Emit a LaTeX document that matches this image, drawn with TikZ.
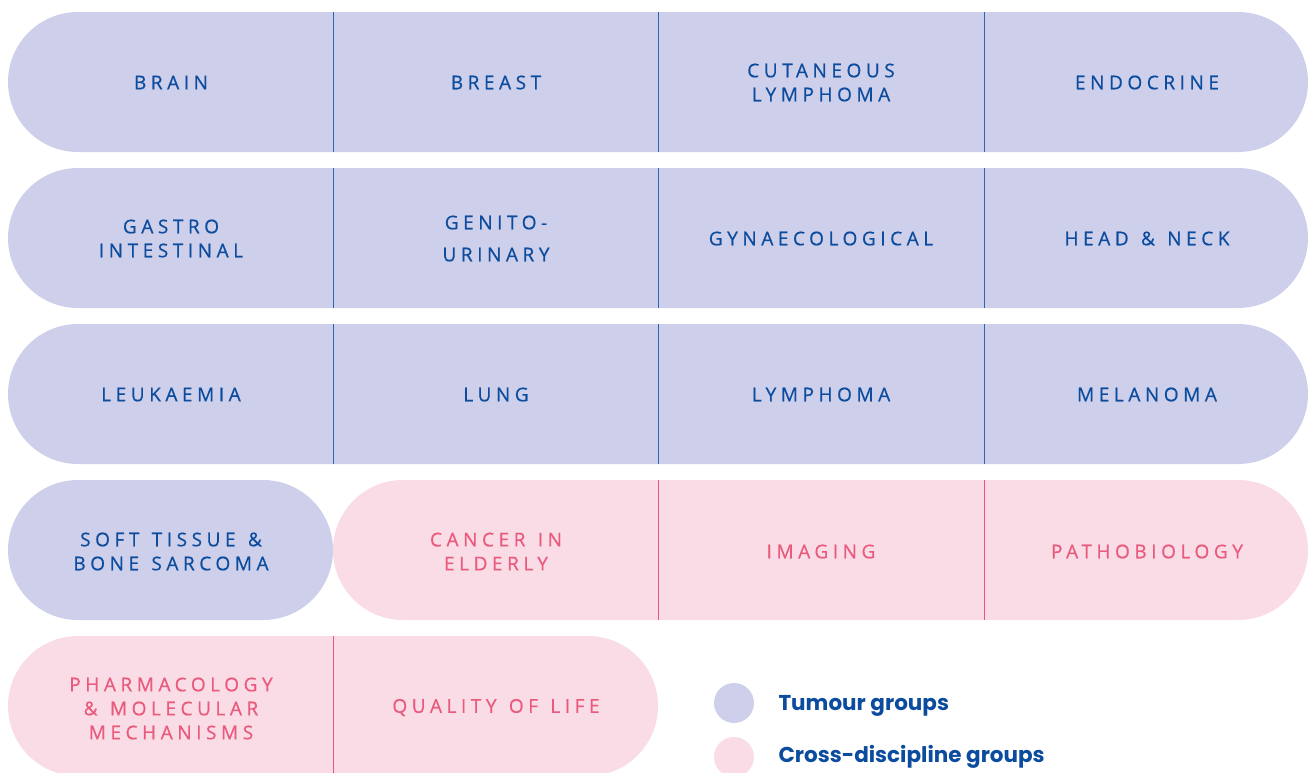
\documentclass[tikz,border=0pt]{standalone}
\usepackage{fontspec}
\setmainfont{Open Sans}
\newfontfamily\pillfont[LetterSpace=24,WordSpace=1.3,FakeBold=0.6]{Open Sans}
\newfontfamily\legfont{Poppins}
\definecolor{tblue}{HTML}{CECFEA}
\definecolor{tbluetext}{HTML}{0B4C9E}
\definecolor{tblueline}{HTML}{3563AE}
\definecolor{cpink}{HTML}{F9DCE6}
\definecolor{cpinktext}{HTML}{E95A7D}
\definecolor{cpinkline}{HTML}{E8577C}
\tikzset{
  bluelab/.style={text=tbluetext, font=\pillfont\fontsize{19}{24}\selectfont, align=center},
  pinklab/.style={text=cpinktext, font=\pillfont\fontsize{19}{24}\selectfont, align=center},
  bpill/.style={fill=tblue, rounded corners=70pt},
  ppill/.style={fill=cpink, rounded corners=70pt},
  bdiv/.style={draw=tblueline, line width=1pt},
  pdiv/.style={draw=cpinkline, line width=1pt},
  legtext/.style={anchor=west, text=tbluetext, font=\legfont\bfseries\fontsize{21.5}{24}\selectfont},
}
\begin{document}
\begin{tikzpicture}[x=1pt,y=-1pt]
\useasboundingbox (0,0) rectangle (1309,772);
% Rows 1-3
\foreach \t in {12,168,324}{
  \fill[bpill] (8,\t) rectangle (1308,\t+140);
  \foreach \x in {333.5,658.5,984}{
    \draw[bdiv] (\x,\t) -- (\x,\t+140);
  }
}
% Row 4
\fill[bpill] (8,480) rectangle (333,620);
\fill[ppill] (333,480) rectangle (1308,620);
\draw[pdiv] (658.5,480) -- (658.5,620);
\draw[pdiv] (984,480) -- (984,620);
% Row 5
\fill[ppill] (8,636) rectangle (658,776);
\draw[pdiv] (333.5,636) -- (333.5,776);

% Labels row 1
\node[bluelab] (brain) at (171,82.5) {BRAIN};
\node[bluelab] (breast) at (496,82.5) {BREAST};
\node[bluelab] (cutan) at (821,82.5) {CUTANEOUS\\LYMPHOMA};
\node[bluelab] (endo) at (1147,82.5) {ENDOCRINE};
% Row 2
\node[bluelab] (gastro) at (171,238.5) {GASTRO\\INTESTINAL};
\node[bluelab] (genito) at (496,238.5) {GENITO-\\[8pt]URINARY};
\node[bluelab] (gyn) at (821,238.5) {GYNAECOLOGICAL};
\node[bluelab] (head) at (1147,238.5) {HEAD \& NECK};
% Row 3
\node[bluelab] (leuk) at (171,394.5) {LEUKAEMIA};
\node[bluelab] (lung) at (496,394.5) {LUNG};
\node[bluelab] (lymph) at (821,394.5) {LYMPHOMA};
\node[bluelab] (melan) at (1147,394.5) {MELANOMA};
% Row 4
\node[bluelab] (soft) at (171,551.5) {SOFT TISSUE \&\\BONE SARCOMA};
\node[pinklab] (cancer) at (496,551.5) {CANCER IN\\ELDERLY};
\node[pinklab] (imaging) at (821,551.5) {IMAGING};
\node[pinklab] (patho) at (1147,551.5) {PATHOBIOLOGY};
% Row 5
\node[pinklab] (pharma) at (171,708.5) {PHARMACOLOGY\\\& MOLECULAR\\MECHANISMS};
\node[pinklab] (qol) at (496,707.5) {QUALITY OF LIFE};

% Legend
\fill[tblue] (734,703) circle (20);
\fill[cpink] (734,757) circle (20);
\node[legtext] (leg1) at (775,706) {Tumour groups};
\node[legtext] (leg2) at (775,757) {Cross-discipline groups};
\end{tikzpicture}
\end{document}
